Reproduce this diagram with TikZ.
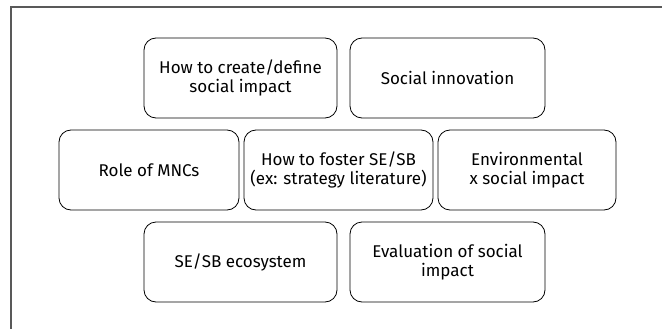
\documentclass[tikz,border=0pt]{standalone}
\usepackage{fontspec}
\setmainfont{Fira Sans}
\begin{document}
\begin{tikzpicture}[
    x=1pt, y=-1pt,
    topic/.style={draw, rounded corners=12pt, line width=0.8pt, align=center,
        inner sep=0pt, minimum height=80pt, font=\fontsize{17}{19}\selectfont},
    frame/.style={draw=black!65, line width=1.2pt}
]
\useasboundingbox (0,0) rectangle (664,329);

% Frame
\draw[frame] (11,329) -- (11,7) -- (662,7);

% Top row
\node[topic, minimum width=193pt] (define) at (240.5,78) {How to create/define\\social impact};
\node[topic, minimum width=195pt] (innov) at (447.5,78) {Social innovation};

% Middle row
\node[topic, minimum width=180pt] (mnc) at (149,170) {Role of MNCs};
\node[topic, minimum width=189pt] (foster) at (338.5,170) {How to foster SE/SB\\(ex: strategy literature)};
\node[topic, minimum width=178pt] (env) at (527,170) {Environmental\\x social impact};

% Bottom row
\node[topic, minimum width=193pt] (eco) at (240.5,262) {SE/SB ecosystem};
\node[topic, minimum width=195pt] (eval) at (447.5,262) {Evaluation of social\\impact};

\end{tikzpicture}
\end{document}
